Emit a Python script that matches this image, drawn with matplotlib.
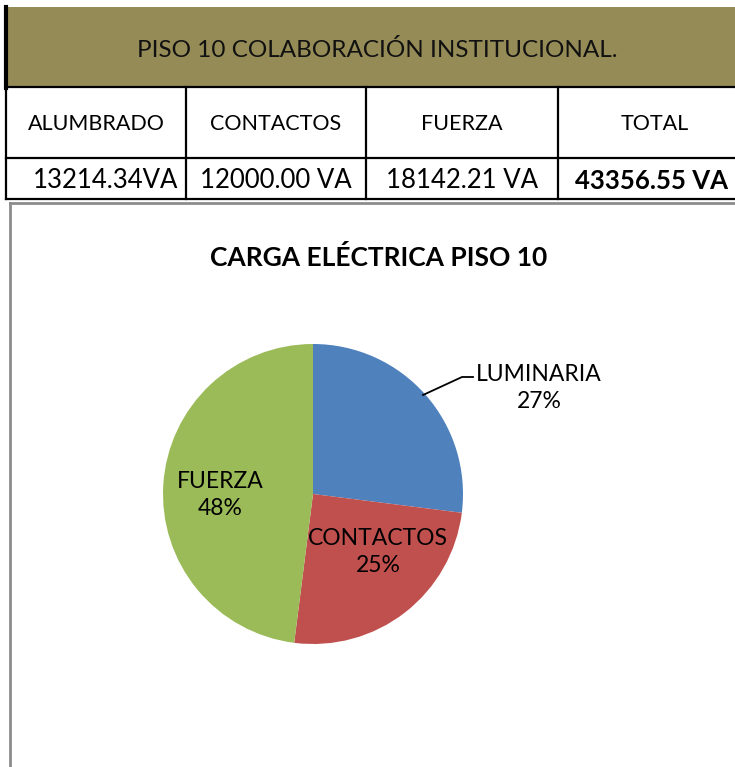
import matplotlib
matplotlib.use("Agg")
import matplotlib.pyplot as plt
from matplotlib.patches import Rectangle

plt.rcParams['font.family'] = ['Lato', 'DejaVu Sans']

header_title = "PISO 10 COLABORACIÓN INSTITUCIONAL."
col_names = ["ALUMBRADO", "CONTACTOS", "FUERZA", "TOTAL"]
col_values = ["13214.34VA", "12000.00 VA", "18142.21 VA", "43356.55 VA"]

chart_title = "CARGA ELÉCTRICA PISO 10"
pie_labels = ["LUMINARIA", "CONTACTOS", "FUERZA"]
pie_values = [27, 25, 48]
pie_colors = ["#4F81BD", "#C0504D", "#9BBB59"]

W, H = 735, 767
fig = plt.figure(figsize=(W / 100, H / 100), dpi=100)

# pie (drawn first, so the overlay text sits above it)
cx, cy, r = 313, 494, 150
pax = fig.add_axes([(cx - r) / W, (H - cy - r) / H, 2 * r / W, 2 * r / H])
wedges, _ = pax.pie(pie_values, colors=pie_colors, startangle=90, counterclock=False,
                    radius=1, wedgeprops=dict(linewidth=0))
pax.set_xlim(-1, 1)
pax.set_ylim(-1, 1)
pax.set_aspect("equal")
pax.axis("off")

bg = fig.add_axes([0, 0, 1, 1])
bg.patch.set_alpha(0)
bg.set_xlim(0, W)
bg.set_ylim(H, 0)
bg.axis("off")

# header band
bg.add_patch(Rectangle((6, 7), W, 80, facecolor="#958B56", edgecolor="none"))
bg.text(377, 50, header_title, ha="center", va="center", fontsize=17.5, color="#111111")
# table lines
lw = 1.6
bg.plot([6, 6], [7, 88], color="black", lw=3)
bg.plot([6, W], [87, 87], color="black", lw=lw)
bg.plot([6, W], [158, 158], color="black", lw=lw)
bg.plot([6, W], [199, 199], color="black", lw=lw)
col_edges = [6, 186, 366, 558]
for x in col_edges[1:]:
    bg.plot([x, x], [87, 199], color="black", lw=lw)
bg.plot([6, 6], [87, 199], color="black", lw=lw)
col_centers = [96, 276, 462, 655]
for i, (n, v) in enumerate(zip(col_names, col_values)):
    bg.text(col_centers[i], 124, n, ha="center", va="center", fontsize=15.5, color="black")
    bg.text(col_centers[i] + (10 if i == 0 else 0) - (3 if i == 3 else 0), 181, v,
            ha="center", va="center", fontsize=18.5, color="black",
            fontweight="bold" if i == 3 else "normal")

# chart border
bg.plot([10, 10], [203, H], color="#8c8c8c", lw=2)
bg.plot([10, W], [203, 203], color="#8c8c8c", lw=2)

bg.text(379, 258, chart_title, ha="center", va="center", fontsize=19, fontweight="bold", color="black")

total = sum(pie_values)
pcts = [f"{round(v / total * 100)}%" for v in pie_values]
label_pos = [(539, 388), (378, 552), (220, 495)]
for (lx, ly), lab, p in zip(label_pos, pie_labels, pcts):
    bg.text(lx, ly, f"{lab}\n{p}", ha="center", va="center", fontsize=16.5,
            color="black", linespacing=1.35)
# leader line for LUMINARIA
bg.plot([423, 462, 473], [395, 377, 377], color="black", lw=1.3)

fig.savefig("out.png", dpi=100)
